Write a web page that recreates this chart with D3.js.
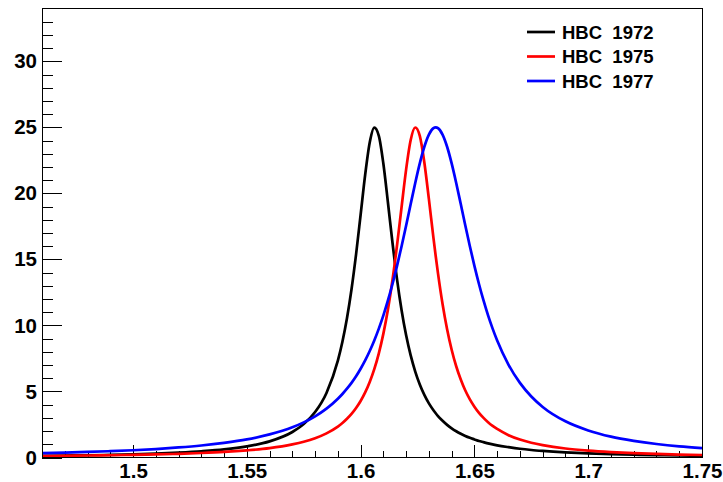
<!DOCTYPE html>
<html>
<head>
<meta charset="utf-8">
<script src="https://cdn.jsdelivr.net/npm/d3@7"></script>
<style>
  body { margin: 0; background: #fff; }
  svg { display: block; }
  .axis text { font-family: "Liberation Sans", Arial, sans-serif; font-weight: bold; font-size: 20.5px; fill: #000; }
  .axis line { stroke: #000; shape-rendering: crispEdges; }
  .legend text { font-family: "Liberation Sans", Arial, sans-serif; font-weight: bold; font-size: 18.5px; white-space: pre; }
</style>
</head>
<body>
<svg width="723" height="482"></svg>
<script>
// mass points (GeV) shared by the three curves
var mass = [
    1.46, 1.47, 1.48, 1.49, 1.50, 1.51, 1.52, 1.53, 1.54, 1.55, 1.56, 1.57,
    1.575, 1.58, 1.585,
    1.590, 1.592, 1.594, 1.596, 1.598, 1.600, 1.602, 1.604, 1.606, 1.608,
    1.610, 1.612, 1.614, 1.616, 1.618, 1.620, 1.622, 1.624, 1.626, 1.628,
    1.630, 1.632, 1.633, 1.634, 1.636, 1.638, 1.640, 1.642, 1.644, 1.646, 1.648,
    1.650, 1.652, 1.654, 1.656, 1.658, 1.660,
    1.665, 1.670, 1.675,
    1.68, 1.69, 1.70, 1.71, 1.72, 1.73, 1.74, 1.75
];

var hbc1972 = [
    0.13, 0.15, 0.17, 0.20, 0.24, 0.29, 0.37, 0.47, 0.61, 0.84, 1.22, 1.93,
    2.53, 3.44, 4.89,
    7.33, 8.76, 10.54, 12.74, 15.38, 18.38, 21.41, 23.85, 24.98, 24.36,
    22.24, 19.31, 16.26, 13.49, 11.15, 9.25, 7.73, 6.51, 5.53, 4.74,
    4.10, 3.58, 3.35, 3.14, 2.78, 2.47, 2.21, 1.99, 1.80, 1.63, 1.49,
    1.37, 1.25, 1.16, 1.07, 0.99, 0.92,
    0.78, 0.66, 0.57,
    0.50, 0.39, 0.31, 0.25, 0.21, 0.18, 0.15, 0.13
];

var hbc1975 = [
    0.11, 0.13, 0.15, 0.17, 0.20, 0.23, 0.28, 0.34, 0.42, 0.54, 0.71, 0.99,
    1.19, 1.46, 1.83,
    2.34, 2.61, 2.93, 3.30, 3.75, 4.28, 4.93, 5.72, 6.69, 7.89,
    9.38, 11.21, 13.44, 16.07, 18.97, 21.82, 24.04, 24.99, 24.35, 22.34,
    19.56, 16.63, 15.24, 13.94, 11.62, 9.71, 8.16, 6.91, 5.90, 5.07, 4.40,
    3.85, 3.38, 3.00, 2.67, 2.39, 2.16,
    1.69, 1.36, 1.12,
    0.94, 0.68, 0.52, 0.41, 0.33, 0.27, 0.22, 0.19
];

var hbc1977 = [
    0.33, 0.37, 0.42, 0.48, 0.55, 0.64, 0.76, 0.91, 1.11, 1.37, 1.75, 2.29,
    2.66, 3.12, 3.70,
    4.45, 4.81, 5.21, 5.65, 6.15, 6.72, 7.35, 8.06, 8.86, 9.76,
    10.76, 11.89, 13.14, 14.51, 16.00, 17.57, 19.19, 20.79, 22.27, 23.53,
    24.45, 24.94, 25.00, 24.94, 24.45, 23.53, 22.27, 20.79, 19.19, 17.57, 16.00,
    14.51, 13.14, 11.89, 10.76, 9.76, 8.86,
    7.02, 5.65, 4.62,
    3.83, 2.74, 2.05, 1.58, 1.26, 1.02, 0.84, 0.71
];

var seriesNames = ["HBC  1972", "HBC  1975", "HBC  1977"];
var seriesColors = ["#000000", "#ff0000", "#0000ff"];

var xDomain = [1.46, 1.75];
var yDomain = [0, 34];
var xMajorTicks = [1.5, 1.55, 1.6, 1.65, 1.7, 1.75];
var yMajorTicks = [0, 5, 10, 15, 20, 25, 30];

var svg = d3.select("svg");
var frameLeft = 42, frameRight = 702, frameTop = 8.5, frameBottom = 457.5;

var x = d3.scaleLinear().domain(xDomain).range([frameLeft, frameRight]);
var y = d3.scaleLinear().domain(yDomain).range([frameBottom, frameTop]);

// minor ticks every 0.01 / every 1
var xMinor = d3.range(147, 176).map(function (d) { return d / 100; });
var yMinor = d3.range(0, 34);

svg.append("g")
    .attr("class", "axis")
    .attr("transform", "translate(0," + frameBottom + ")")
    .call(d3.axisBottom(x).tickValues(xMinor).tickSize(-7).tickFormat(""))
    .call(function (g) { g.select(".domain").remove(); });

svg.append("g")
    .attr("class", "axis")
    .attr("transform", "translate(0," + frameBottom + ")")
    .call(d3.axisBottom(x).tickValues(xMajorTicks).tickSize(-13).tickPadding(6).tickFormat(d3.format("")))
    .call(function (g) { g.select(".domain").remove(); });

svg.append("g")
    .attr("class", "axis")
    .attr("transform", "translate(" + frameLeft + ",0)")
    .call(d3.axisLeft(y).tickValues(yMinor).tickSize(-11).tickFormat(""))
    .call(function (g) { g.select(".domain").remove(); });

svg.append("g")
    .attr("class", "axis")
    .attr("transform", "translate(" + frameLeft + ",0)")
    .call(d3.axisLeft(y).tickValues(yMajorTicks).tickSize(-20).tickPadding(5))
    .call(function (g) { g.select(".domain").remove(); });

var line = d3.line()
    .x(function (d) { return x(d[0]); })
    .y(function (d) { return y(d[1]); })
    .curve(d3.curveMonotoneX);

[hbc1972, hbc1975, hbc1977].forEach(function (vals, i) {
    svg.append("path")
        .datum(mass.map(function (m, j) { return [m, vals[j]]; }))
        .attr("fill", "none")
        .attr("stroke", seriesColors[i])
        .attr("stroke-width", 2.7)
        .attr("d", line);
});

// frame
svg.append("rect")
    .attr("x", frameLeft + 0.5)
    .attr("y", frameTop)
    .attr("width", frameRight - frameLeft)
    .attr("height", frameBottom - frameTop)
    .attr("fill", "none")
    .attr("stroke", "#000")
    .attr("stroke-width", 1)
    .attr("shape-rendering", "crispEdges");

// legend
var legend = svg.append("g").attr("class", "legend");
seriesNames.forEach(function (name, i) {
    var ly = 32 + i * 24.5;
    legend.append("line")
        .attr("x1", 527).attr("x2", 555)
        .attr("y1", ly).attr("y2", ly)
        .attr("stroke", seriesColors[i])
        .attr("stroke-width", 2.7);
    legend.append("text")
        .attr("x", 562)
        .attr("y", ly + 6.5)
        .text(name);
});
</script>
</body>
</html>
